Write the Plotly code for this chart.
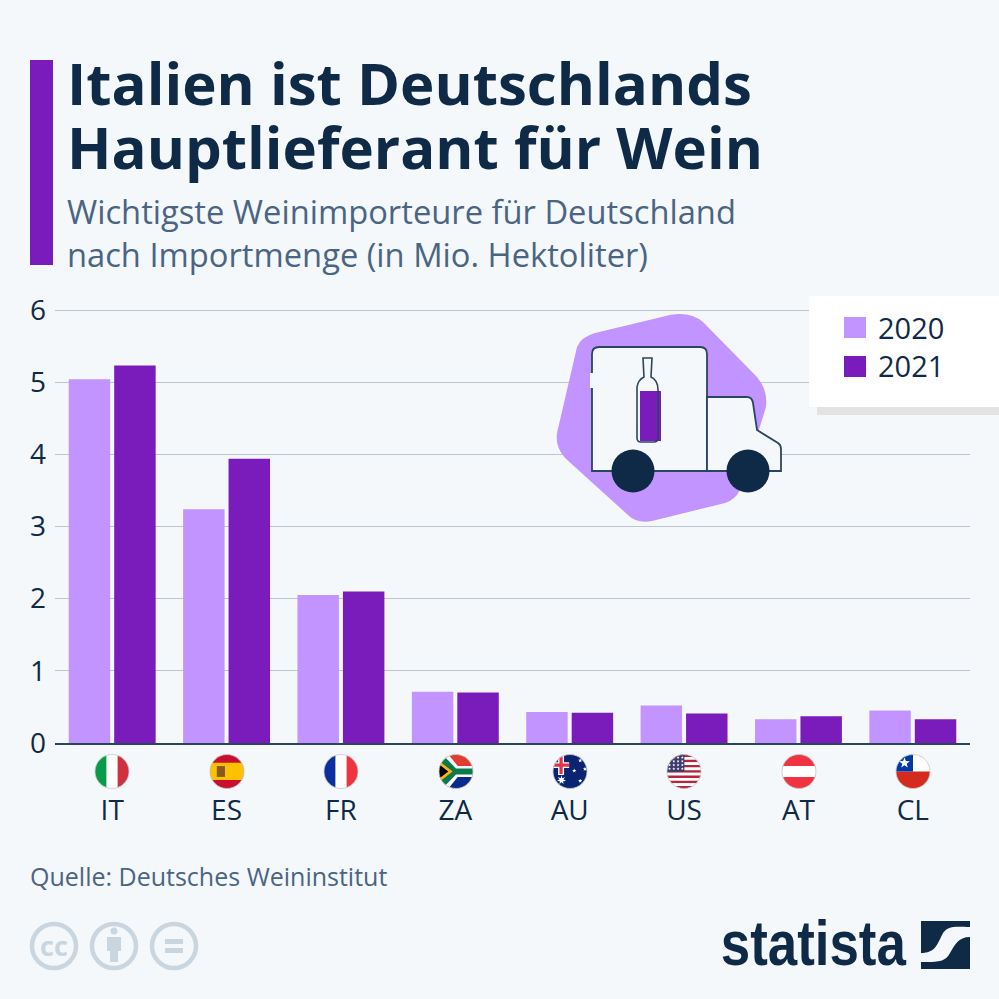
import numpy as np
import plotly.graph_objects as go

# data
countries = ["IT", "ES", "FR", "ZA", "AU", "US", "AT", "CL"]
values_2020 = [5.04, 3.24, 2.05, 0.71, 0.43, 0.52, 0.33, 0.45]
values_2021 = [5.23, 3.94, 2.10, 0.70, 0.42, 0.41, 0.37, 0.33]
y_ticks = [0, 1, 2, 3, 4, 5, 6]

SIZE = 999
BG = "#f4f8fb"
LIGHT = "#c194ff"
DARK = "#7a1cbc"
NAVY = "#0f2a47"
SLATE = "#4a6583"
GRID = "#bcc5cf"
ICON = "#c9d5df"
FONT = "Open Sans"


def fx(x):
    return x / SIZE


def fy(y):
    return 1 - y / SIZE


def pixel_path(cmds):
    # cmds: list of (letter, x1, y1, x2, y2...) in pixels from top left
    out = []
    for c in cmds:
        nums = c[1:]
        pts = [f"{fx(nums[i]):.5f},{fy(nums[i + 1]):.5f}" for i in range(0, len(nums), 2)]
        out.append(c[0] + " ".join(pts))
    return " ".join(out)


def clip_to_disc(poly, n=48):
    # Sutherland-Hodgman against a unit circle polygon
    angles = np.linspace(0, 2 * np.pi, n, endpoint=False)
    for a in angles:
        nx, ny = np.cos(a), np.sin(a)
        d = np.cos(np.pi / n)
        res = []
        for i in range(len(poly)):
            p, q = poly[i], poly[(i + 1) % len(poly)]
            sp = p[0] * nx + p[1] * ny - d
            sq = q[0] * nx + q[1] * ny - d
            if sp <= 0:
                res.append(p)
            if sp * sq < 0:
                t = sp / (sp - sq)
                res.append((p[0] + t * (q[0] - p[0]), p[1] + t * (q[1] - p[1])))
        poly = res
        if not poly:
            return []
    return poly


def rect(x0, y0, x1, y1):
    return [(x0, y0), (x1, y0), (x1, y1), (x0, y1)]


def star(x, y, r, pts=5):
    out = []
    for i in range(pts * 2):
        a = -np.pi / 2 + i * np.pi / pts
        rr = r if i % 2 == 0 else r * 0.42
        out.append((x + rr * np.cos(a), y + rr * np.sin(a)))
    return out


shapes = []


def add_box(x0, y0, x1, y1, color):
    shapes.append(dict(type="rect", xref="paper", yref="paper", x0=fx(x0), x1=fx(x1),
                       y0=fy(y0), y1=fy(y1), fillcolor=color, line=dict(width=0)))


def add_circle(cx, cy, r, fill, line=None, lw=0):
    shapes.append(dict(type="circle", xref="paper", yref="paper", x0=fx(cx - r), x1=fx(cx + r),
                       y0=fy(cy - r), y1=fy(cy + r), fillcolor=fill,
                       line=dict(width=lw, color=line or fill)))


def add_path(cmds, fill=None, line=None, lw=0):
    s = dict(type="path", xref="paper", yref="paper", path=pixel_path(cmds), line=dict(width=lw))
    if fill:
        s["fillcolor"] = fill
    if line:
        s["line"]["color"] = line
    shapes.append(s)


us_stripes = [("#b5253d" if i % 2 == 0 else "#ffffff", rect(-1, -1 + i * 2 / 13, 1, -1 + (i + 1) * 2 / 13))
              for i in range(13)]
us_dots = [(x, y) for y in (-0.82, -0.6, -0.38, -0.16) for x in (-0.85, -0.6, -0.35, -0.1)]

flags = {
    "IT": [("#ffffff", rect(-1, -1, 1, 1)), ("#0a9a4c", rect(-1, -1, -0.33, 1)), ("#d0313f", rect(0.33, -1, 1, 1))],
    "ES": [("#c8102e", rect(-1, -1, 1, 1)), ("#fcc200", rect(-1, -0.52, 1, 0.5)),
           ("#8a5a1c", rect(-0.6, -0.32, -0.12, 0.32))],
    "FR": [("#ffffff", rect(-1, -1, 1, 1)), ("#0b2f9f", rect(-1, -1, -0.33, 1)), ("#ef3340", rect(0.33, -1, 1, 1))],
    "ZA": [("#e03c31", rect(-1, -1, 1, 0)), ("#0a2a8c", rect(-1, 0, 1, 1)),
           ("#ffffff", [(-1, -1), (-0.45, -1), (0.1, -0.32), (1, -0.32), (1, 0.32), (0.1, 0.32), (-0.45, 1), (-1, 1)]),
           ("#0a7a4a", [(-1, -0.9), (-0.7, -0.9), (0, -0.18), (1, -0.18), (1, 0.18), (0, 0.18), (-0.7, 0.9), (-1, 0.9)]),
           ("#fcb514", [(-1, -0.62), (-0.2, 0), (-1, 0.62)]),
           ("#000000", [(-1, -0.42), (-0.45, 0), (-1, 0.42)])],
    "AU": [("#0a2472", rect(-1, -1, 1, 1)), ("#ffffff", rect(-1, -0.55, -0.05, -0.2)),
           ("#ffffff", rect(-0.7, -0.95, -0.35, 0.2)), ("#e0334a", rect(-1, -0.47, -0.05, -0.28)),
           ("#e0334a", rect(-0.62, -0.95, -0.43, 0.15)),
           ("#ffffff", star(-0.5, 0.5, 0.28, 7)), ("#ffffff", star(0.6, -0.65, 0.13)), ("#ffffff", star(0.6, 0.55, 0.13)),
           ("#ffffff", star(0.25, -0.05, 0.13)), ("#ffffff", star(0.88, -0.15, 0.13))],
    "US": us_stripes + [("#3c3b6e", rect(-1, -1, 0.02, 0.02))]
    + [("#ffffff", star(x, y, 0.09)) for x, y in us_dots],
    "AT": [("#ef3340", rect(-1, -1, 1, 1)), ("#ffffff", rect(-1, -0.33, 1, 0.33))],
    "CL": [("#ffffff", rect(-1, -1, 1, 0)), ("#d52b1e", rect(-1, 0, 1, 1)), ("#0039a6", rect(-1, -1, 0, 0)),
           ("#ffffff", star(-0.5, -0.5, 0.33))],
}

annotations = []


def add_text(x, y, text, size, color, anchor="left", weight=400, family=FONT):
    annotations.append(dict(xref="paper", yref="paper", x=fx(x), y=fy(y), text=text, showarrow=False,
                            xanchor=anchor, yanchor="middle", align=anchor, borderpad=0,
                            font=dict(family=family, size=size, color=color, weight=weight)))


# title block
add_box(30, 60, 53, 265, DARK)
add_text(66, 82, "Italien ist Deutschlands", 58.2, NAVY, weight=700)
add_text(66, 146, "Hauptlieferant für Wein", 58.2, NAVY, weight=700)
add_text(66, 232.5, "Wichtigste Weinimporteure für Deutschland<br>nach Importmenge (in Mio. Hektoliter)", 32.7, SLATE)

# legend box
add_box(817, 407, 999, 415, "#e3e3e3")
add_box(809, 296, 999, 407, "#ffffff")
add_box(844, 317, 866, 338, LIGHT)
add_box(844, 356, 866, 377, DARK)
add_text(877, 327, "2020", 29, NAVY)
add_text(877, 366, "2021", 29, NAVY)

# truck pictogram
add_path([("M", 595, 333), ("L", 670, 315), ("Q", 690, 311, 703, 322), ("L", 757, 377), ("Q", 768, 390, 766, 407),
          ("L", 740, 490), ("Q", 735, 500, 725, 503), ("L", 652, 521), ("Q", 637, 524, 628, 515), ("L", 565, 458),
          ("Q", 555, 447, 557, 433), ("L", 577, 347), ("Q", 581, 337, 595, 333), ("Z",)], fill=LIGHT)
TRUCK_LINE = "#2a4562"
add_path([("M", 592, 471), ("L", 592, 354), ("Q", 592, 347, 599, 347), ("L", 700, 347), ("Q", 707, 347, 707, 354),
          ("L", 707, 471), ("Z",)], fill=BG, line=TRUCK_LINE, lw=1.8)
add_path([("M", 707, 397), ("L", 747, 397), ("Q", 752, 397, 753, 403), ("L", 757, 430), ("L", 778, 443),
          ("Q", 781, 445, 781, 449), ("L", 781, 471), ("L", 707, 471), ("Z",)], fill=BG, line=TRUCK_LINE, lw=1.8)
add_box(590, 373, 594, 388, BG)
add_box(640, 391, 661, 441, DARK)
add_path([("M", 643, 358), ("L", 652, 358), ("L", 651, 377), ("Q", 658, 380, 658, 390), ("L", 658, 438),
          ("Q", 658, 442, 654, 442), ("L", 641, 442), ("Q", 637, 442, 637, 438), ("L", 637, 387),
          ("Q", 638, 380, 644, 377), ("Z",)], line=TRUCK_LINE, lw=1.6)
add_circle(633, 471, 21.5, NAVY)
add_circle(748, 471, 21.5, NAVY)

# flags under the axis
flag_centres = [112, 227, 341, 456, 570, 684, 799, 913]
FLAG_Y = 771.5
FLAG_R = 17
for code, cx in zip(countries, flag_centres):
    for color, poly in flags[code]:
        clipped = clip_to_disc(poly)
        if clipped:
            add_path([("M", cx + clipped[0][0] * FLAG_R, FLAG_Y + clipped[0][1] * FLAG_R)]
                     + [("L", cx + p[0] * FLAG_R, FLAG_Y + p[1] * FLAG_R) for p in clipped[1:]] + [("Z",)], fill=color)
    add_circle(cx, FLAG_Y, FLAG_R, "rgba(0,0,0,0)", "#c9c9c9", 0.8)

# source
add_text(29, 876, "Quelle: Deutsches Weininstitut", 25, SLATE)

# cc icons
for cx in (54, 114, 174):
    add_circle(cx, 946, 22, "rgba(0,0,0,0)", ICON, 4.5)
add_text(54, 945, "cc", 27, ICON, anchor="center", weight=700)
add_circle(114, 931, 3.5, ICON)
add_box(107, 937, 121, 951, ICON)
add_box(110, 951, 118, 962, ICON)
add_box(165, 939, 183, 944, ICON)
add_box(165, 948, 183, 953, ICON)

# statista logo, squeezed to width in post_script below
add_text(813.5, 943, "statista", 63, NAVY, anchor="center", weight=700, family="Liberation Sans")
add_box(921, 921, 970, 969, NAVY)
add_path([("M", 921, 953), ("C", 935, 953, 937, 945, 942, 935), ("C", 947, 925, 955, 927, 970, 927), ("L", 970, 937),
          ("C", 958, 937, 955, 945, 950, 953), ("C", 945, 963, 935, 962, 921, 962), ("Z",)], fill=BG)

fig = go.Figure()
fig.add_trace(go.Bar(x=countries, y=values_2020, name="2020", marker=dict(color=LIGHT, line=dict(width=0))))
fig.add_trace(go.Bar(x=countries, y=values_2021, name="2021", marker=dict(color=DARK, line=dict(width=0))))

fig.update_layout(
    width=SIZE,
    height=SIZE,
    margin=dict(l=0, r=0, t=0, b=0),
    paper_bgcolor=BG,
    plot_bgcolor=BG,
    barmode="group",
    bargap=0.205,
    bargroupgap=0.088,
    showlegend=False,
    shapes=shapes,
    annotations=annotations,
    font=dict(family=FONT, color=NAVY),
    xaxis=dict(
        domain=[fx(55), fx(970)],
        range=[-0.5, 7.5],
        showgrid=False,
        showline=True,
        linecolor="#2a4562",
        linewidth=1.5,
        ticks="",
        tickfont=dict(size=28, color=NAVY),
        ticklabelstandoff=42,
        automargin=False,
    ),
    yaxis=dict(
        # a little headroom so the gridline at 6 is not dropped at the axis end
        domain=[fy(743), fy(308.56)],
        range=[0, 6.02],
        tickvals=y_ticks,
        showgrid=True,
        gridcolor=GRID,
        gridwidth=1.2,
        zeroline=False,
        ticks="",
        tickfont=dict(size=28, color=NAVY),
        ticklabelstandoff=8,
        automargin=False,
    ),
)

# the page body has a default margin that would shift the whole figure
post = """
document.body.style.margin = '0';
document.body.style.background = '#f4f8fb';
document.querySelectorAll('.annotation-text').forEach(function (t) {
  if (t.textContent === 'statista') {
    t.setAttribute('textLength', '185');
    t.setAttribute('lengthAdjust', 'spacingAndGlyphs');
  }
});
"""
fig.write_html("out.html", post_script=post, config=dict(displayModeBar=False))
